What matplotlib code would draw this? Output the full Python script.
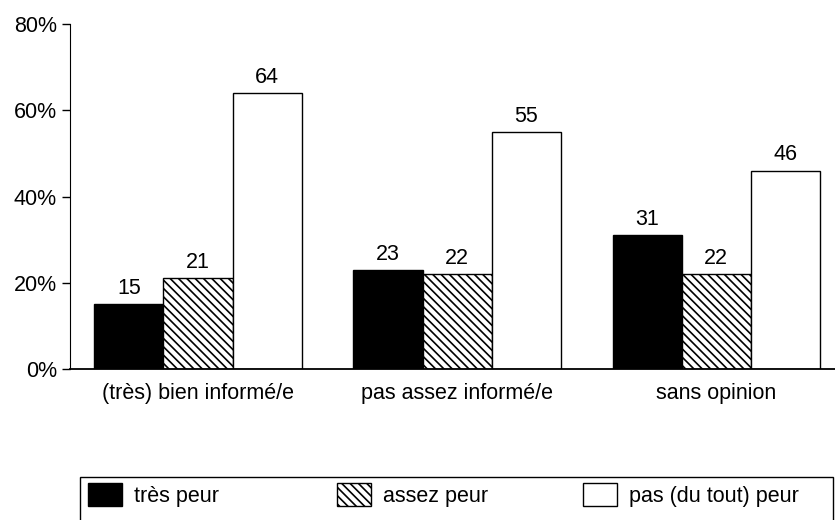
import matplotlib.pyplot as plt
import matplotlib.patches as mpatches
import numpy as np

plt.rcParams['font.family'] = ['Liberation Sans', 'DejaVu Sans']
plt.rcParams['hatch.linewidth'] = 1.2

groups = ['(très) bien informé/e', 'pas assez informé/e', 'sans opinion']
tres_peur = [15, 23, 31]
assez_peur = [21, 22, 22]
pas_peur = [64, 55, 46]
series_names = ['très peur', 'assez peur', 'pas (du tout) peur']

FS = 15.5

fig = plt.figure(figsize=(8.35, 5.2), dpi=100)
ax = fig.add_axes([0.0838, 0.2904, 0.92, 0.6634])

x = np.arange(len(groups))
w = 0.267
styles = [dict(color='black', edgecolor='black'),
          dict(color='white', edgecolor='black', hatch='\\\\\\\\'),
          dict(color='white', edgecolor='black')]
handles = []
for i, (vals, st) in enumerate(zip([tres_peur, assez_peur, pas_peur], styles)):
    bars = ax.bar(x + (i - 1) * w, vals, w, linewidth=1.0, label=series_names[i], **st)
    handles.append(bars)
    for b, v in zip(bars, vals):
        ax.text(b.get_x() + b.get_width() / 2, v + 1.2, str(v),
                ha='center', va='bottom', fontsize=FS)

ax.set_xlim(-0.494, 2.47)
ax.set_ylim(0, 80)
ax.set_yticks([0, 20, 40, 60, 80])
ax.set_yticklabels(['0%', '20%', '40%', '60%', '80%'], fontsize=FS)
ax.set_xticks(x)
ax.set_xticklabels(groups, fontsize=FS)
ax.tick_params(axis='x', length=0, pad=10)
ax.tick_params(axis='y', length=6, direction='out', width=1, pad=3.5)
ax.spines['top'].set_visible(False)
ax.spines['right'].set_visible(False)
ax.spines['bottom'].set_linewidth(1.3)

# legend box, cut off at the bottom
fig.patches.append(mpatches.Rectangle((80 / 835, -0.1), 753 / 835, 0.1 + 43 / 520,
                                      transform=fig.transFigure, fill=False,
                                      edgecolor='black', linewidth=1.0))
# one entry per column, at fixed positions
legend_x = [88, 337, 583]
for h, name, lx in zip(handles, series_names, legend_x):
    lg = fig.legend(handles=[h], labels=[name], loc='center left',
                    bbox_to_anchor=(lx / 835, 1 - 495 / 520), frameon=False,
                    fontsize=FS, borderpad=0, borderaxespad=0,
                    handlelength=1.6, handleheight=1.3, handletextpad=0.55)

fig.savefig('out.png', dpi=100)
